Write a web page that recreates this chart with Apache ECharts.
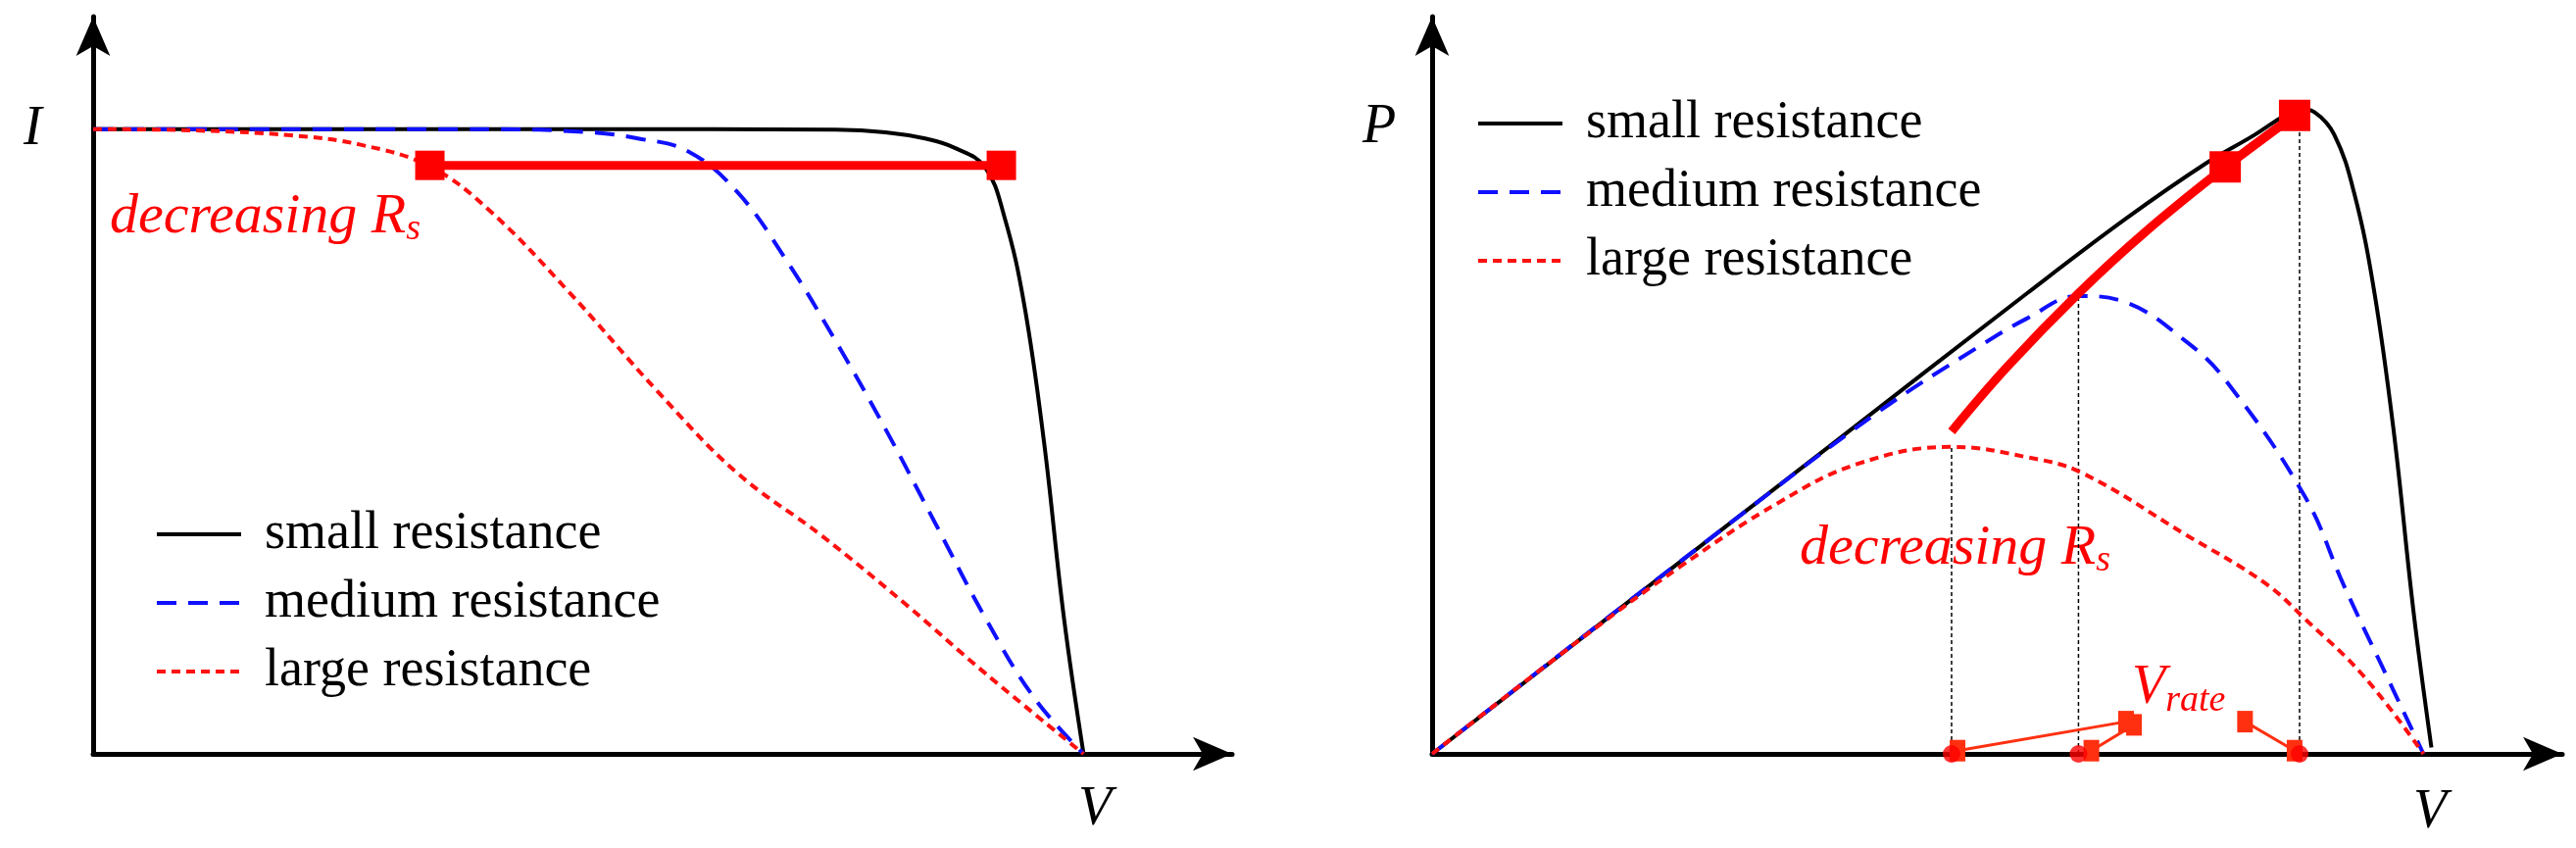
<!DOCTYPE html>
<html>
<head>
<meta charset="utf-8">
<script src="https://cdn.jsdelivr.net/npm/echarts@6/dist/echarts.min.js"></script>
<style>html,body{margin:0;background:#fff}#main{width:2628px;height:865px}</style>
</head>
<body>
<div id="main"></div>
<script>
// I-V curves (normalized V, I)
var ivSmall = [[0,1],[0.5,1],[0.75,0.999],[0.8,0.995],[0.84,0.985],[0.87,0.97],[0.9,0.94],[0.92,0.86],[0.94,0.72],[0.96,0.5],[0.98,0.22],[1,0]]
var ivMedium = [[0,1],[0.4,1],[0.5,0.995],[0.55,0.985],[0.6,0.965],[0.65,0.9],[0.7,0.79],[0.75,0.66],[0.8,0.52],[0.85,0.37],[0.9,0.22],[0.95,0.09],[1,0]]
var ivLarge = [[0,1],[0.1,0.998],[0.2,0.99],[0.27,0.975],[0.34,0.94],[0.4,0.87],[0.48,0.74],[0.57,0.58],[0.65,0.45],[0.735,0.35],[0.82,0.24],[0.9,0.13],[1,0]]
var ivArrow = [[0.34,0.942],[0.917,0.942]]

// P-V curves (normalized V, P)
var pvSmall = [[0,0],[0.2,0.238],[0.4,0.476],[0.6,0.714],[0.7,0.83],[0.78,0.915],[0.83,0.96],[0.86,0.99],[0.875,1],[0.89,0.995],[0.91,0.96],[0.93,0.87],[0.95,0.72],[0.97,0.5],[0.99,0.22],[1.008,0.01]]
var pvMedium = [[0,0],[0.3,0.357],[0.45,0.53],[0.55,0.63],[0.6,0.675],[0.652,0.71],[0.7,0.70],[0.76,0.64],[0.8,0.58],[0.88,0.40],[0.92,0.26],[0.96,0.13],[1,0]]
var pvLarge = [[0,0],[0.15,0.178],[0.25,0.29],[0.35,0.39],[0.43,0.45],[0.524,0.476],[0.6,0.46],[0.655,0.436],[0.76,0.34],[0.84,0.265],[0.88,0.21],[0.94,0.12],[1,0]]
var pvArrow = [[0.524,0.5],[0.58,0.6],[0.652,0.714],[0.72,0.81],[0.8,0.91],[0.87,0.99]]
var vRate = [[0.524,0],[0.652,0],[0.875,0]]
var vRatePeaks = [0.476,0.71,1]
var vRatePointers = [
  [[0.70,0.05],[0.53,0.005]],
  [[0.708,0.045],[0.665,0.005]],
  [[0.82,0.05],[0.87,0.005]]
]

var legendNames = ['small resistance','medium resistance','large resistance']
var serif = 'Liberation Serif'

var myChart = echarts.init(document.getElementById('main'))

function axisX(i, max) {
  return {type:'value', gridIndex:i, min:0, max:max, splitLine:{show:false},
    axisTick:{show:false}, axisLabel:{show:false},
    axisLine:{lineStyle:{color:'#000',width:5}, symbol:['none','arrow'], symbolSize:[26,40]}}
}
function axisY(i, max) {
  return {type:'value', gridIndex:i, min:0, max:max, splitLine:{show:false},
    axisTick:{show:false}, axisLabel:{show:false},
    axisLine:{onZero:false, lineStyle:{color:'#000',width:5}, symbol:['none','arrow'], symbolSize:[26,40]}}
}
function curve(i, data, color, type, width) {
  return {type:'line', xAxisIndex:i, yAxisIndex:i, data:data, smooth:0.4, symbol:'none',
    lineStyle:{color:color, width:width || 4, type:type}, silent:true, z:3}
}

var series = [
  curve(0, ivSmall, '#000', 'solid'),
  curve(0, ivMedium, '#1010ff', [20,12]),
  curve(0, ivLarge, '#ff1010', [9,6]),
  {type:'line', xAxisIndex:0, yAxisIndex:0, data:ivArrow, symbol:['none','arrow'], symbolSize:[30,30],
    showAllSymbol:true, lineStyle:{color:'#ff0000', width:9}, itemStyle:{color:'#ff0000'}, z:5},
  curve(1, pvSmall, '#000', 'solid'),
  curve(1, pvMedium, '#1010ff', [20,12]),
  curve(1, pvLarge, '#ff1010', [9,6]),
  {type:'line', xAxisIndex:1, yAxisIndex:1, data:pvArrow, smooth:0.4, symbol:'none', lineStyle:{color:'#ff0000', width:9}, z:5},
  {type:'line', xAxisIndex:1, yAxisIndex:1, data:pvArrow.slice(-2), symbol:['none','arrow'], symbolSize:[32,32],
    lineStyle:{color:'#ff0000', width:9}, itemStyle:{color:'#ff0000'}, z:5}
]
vRate.forEach(function (p, k) {
  series.push({type:'line', xAxisIndex:1, yAxisIndex:1, data:[[p[0],0],[p[0],vRatePeaks[k]]], symbol:'none',
    lineStyle:{color:'#000', width:1.5, type:[4,3]}, z:2})
})
vRatePointers.forEach(function (seg) {
  series.push({type:'line', xAxisIndex:1, yAxisIndex:1, data:seg, symbol:['none','arrow'], symbolSize:[16,22],
    lineStyle:{color:'#ff3010', width:3}, itemStyle:{color:'#ff3010'}, z:6})
})
series.push({type:'scatter', xAxisIndex:1, yAxisIndex:1, data:vRate, symbolSize:18, itemStyle:{color:'#ff0000'}, z:7})

// legend drawn as graphic so it can sit inside each plot
var graphic = []
var dashes = ['solid', [20,12], [9,6]]
var colors = ['#000', '#1010ff', '#ff1010']
function legendBlock(x0, y0, step) {
  legendNames.forEach(function (n, k) {
    var y = y0 + k * step
    graphic.push({type:'line', shape:{x1:x0, y1:y, x2:x0 + 86, y2:y}, style:{stroke:colors[k], lineWidth:4, lineDash:dashes[k] === 'solid' ? null : dashes[k]}})
    graphic.push({type:'text', x:x0 + 110, y:y, style:{text:n, font:'54px ' + serif, fill:'#000', verticalAlign:'middle'}})
  })
}
legendBlock(160, 545, 70)
legendBlock(1508, 126, 70)

function italic(x, y, t, color) {
  graphic.push({type:'text', x:x, y:y, style:{text:t, font:'italic 56px ' + serif, fill:color || '#000', verticalAlign:'middle'}})
}
italic(24, 132, 'I')
italic(1100, 826, 'V')
italic(1390, 130, 'P')
italic(2462, 829, 'V')

function rsText(x, y) {
  graphic.push({type:'text', x:x, y:y, style:{
    text:'{a|decreasing R}{b|s}',
    verticalAlign:'middle',
    rich:{a:{font:'italic 58px ' + serif, fill:'#ff0000'}, b:{font:'italic 38px ' + serif, fill:'#ff0000', padding:[24,0,0,0]}}
  }})
}
rsText(112, 222)
rsText(1836, 560)
graphic.push({type:'text', x:2175, y:702, style:{
  text:'{a|V}{b|rate}', verticalAlign:'middle',
  rich:{a:{font:'italic 56px ' + serif, fill:'#ff0000'}, b:{font:'italic 38px ' + serif, fill:'#ff0000', padding:[26,0,0,0]}}
}})

option = {
  backgroundColor:'#fff',
  animation:false,
  grid:[
    {left:95, right:1371, top:17, bottom:96},
    {left:1461, right:14, top:17, bottom:96}
  ],
  xAxis:[axisX(0, 1.15), axisX(1, 1.14)],
  yAxis:[axisY(0, 1.18), axisY(1, 1.143)],
  series:series,
  graphic:graphic
}
myChart.setOption(option)
</script>
</body>
</html>
